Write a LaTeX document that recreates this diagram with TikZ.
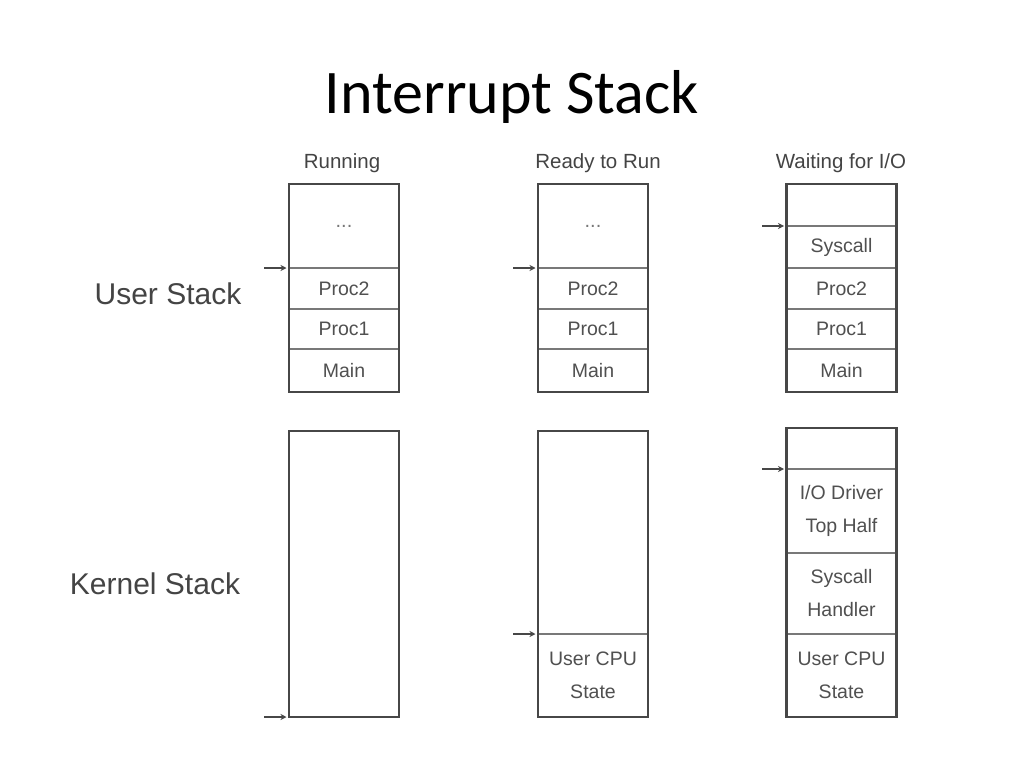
\documentclass[tikz,border=0pt]{standalone}
\usepackage{fontspec}
\setmainfont{Liberation Sans}
\newfontfamily\titlefont{Carlito}
\usetikzlibrary{arrows.meta}
\definecolor{frame}{HTML}{474747}
\definecolor{divider}{HTML}{787878}
\definecolor{celltext}{HTML}{505050}
\definecolor{headtext}{HTML}{444444}
\tikzset{
  cell/.style={draw=divider, line width=2.6pt, minimum width=110pt, inner sep=0pt, outer sep=0pt,
    text=celltext, font=\fontsize{19.5}{33}\selectfont, align=center},
  stackframe/.style={draw=frame, line width=2.8pt},
  header/.style={text=headtext, font=\fontsize{20.5}{22}\selectfont, inner sep=0pt},
  sidelabel/.style={text=headtext, font=\fontsize{30}{32}\selectfont, inner sep=0pt},
  sp/.style={draw=frame, line width=1.8pt, shorten >=2.5pt, -{Stealth[length=6pt,width=6pt]}},
  dots/.style={text=divider, font=\fontsize{20}{20}\selectfont},
}
\begin{document}
\begin{tikzpicture}[x=1pt,y=-1pt]
\useasboundingbox[fill=white] (0,0) rectangle (1024,768);
% title
\node[font=\titlefont\fontsize{62}{70}\selectfont, inner sep=0pt] (title) at (512,97) {Interrupt Stack};
% headers
\node[header] (hrun) at (342,163) {Running};
\node[header] (hrdy) at (598,163) {Ready to Run};
\node[header] (hwait) at (841,163) {Waiting for I/O};
% side labels
\node[sidelabel] (luser) at (168,294) {User Stack};
\node[sidelabel] (lkern) at (155,584) {Kernel Stack};

% ---- Running, user stack
\node[cell, minimum height=84pt] (ru1) at (344,226) {\textcolor{divider}{\fontsize{20}{20}\selectfont ...}};
\node[cell, minimum height=41pt] (ru2) at (344,288.5) {Proc2};
\node[cell, minimum height=40pt] (ru3) at (344,329) {Proc1};
\node[cell, minimum height=43pt] (ru4) at (344,370.5) {Main};
\draw[stackframe] (ru1.north west) rectangle (ru4.south east);
% ---- Running, kernel stack
\node[cell, minimum height=286pt] (rk1) at (344,574) {};
\draw[stackframe] (rk1.north west) rectangle (rk1.south east);

% ---- Ready, user stack
\node[cell, minimum height=84pt] (du1) at (593,226) {\textcolor{divider}{\fontsize{20}{20}\selectfont ...}};
\node[cell, minimum height=41pt] (du2) at (593,288.5) {Proc2};
\node[cell, minimum height=40pt] (du3) at (593,329) {Proc1};
\node[cell, minimum height=43pt] (du4) at (593,370.5) {Main};
\draw[stackframe] (du1.north west) rectangle (du4.south east);
% ---- Ready, kernel stack
\node[cell, minimum height=203pt] (dk1) at (593,532.5) {};
\node[cell, minimum height=83pt] (dk2) at (593,675.5) {User CPU\\State};
\draw[stackframe] (dk1.north west) rectangle (dk2.south east);

% ---- Waiting, user stack
\node[cell, minimum height=42pt] (wu0) at (841.5,205) {};
\node[cell, minimum height=42pt] (wu1) at (841.5,247) {Syscall};
\node[cell, minimum height=41pt] (wu2) at (841.5,288.5) {Proc2};
\node[cell, minimum height=40pt] (wu3) at (841.5,329) {Proc1};
\node[cell, minimum height=43pt] (wu4) at (841.5,370.5) {Main};
\draw[stackframe] (wu0.north west) rectangle (wu4.south east);
% ---- Waiting, kernel stack
\node[cell, minimum height=41pt] (wk0) at (841.5,448.5) {};
\node[cell, minimum height=84pt] (wk1) at (841.5,511) {I/O Driver\\Top Half};
\node[cell, minimum height=81pt] (wk2) at (841.5,593.5) {Syscall\\Handler};
\node[cell, minimum height=83pt] (wk3) at (841.5,675.5) {User CPU\\State};
\draw[stackframe] (wk0.north west) rectangle (wk3.south east);

% ---- stack pointers
\coordinate (pru) at (264,268);
\coordinate (prk) at (264,717);
\coordinate (pdu) at (513,268);
\coordinate (pdk) at (513,634);
\coordinate (pwu) at (762,226);
\coordinate (pwk) at (762,469);
\draw[sp] (pru) -- (ru2.north west);
\draw[sp] (prk) -- (rk1.south west);
\draw[sp] (pdu) -- (du2.north west);
\draw[sp] (pdk) -- (dk2.north west);
\draw[sp] (pwu) -- (wu1.north west);
\draw[sp] (pwk) -- (wk1.north west);
\end{tikzpicture}
\end{document}
